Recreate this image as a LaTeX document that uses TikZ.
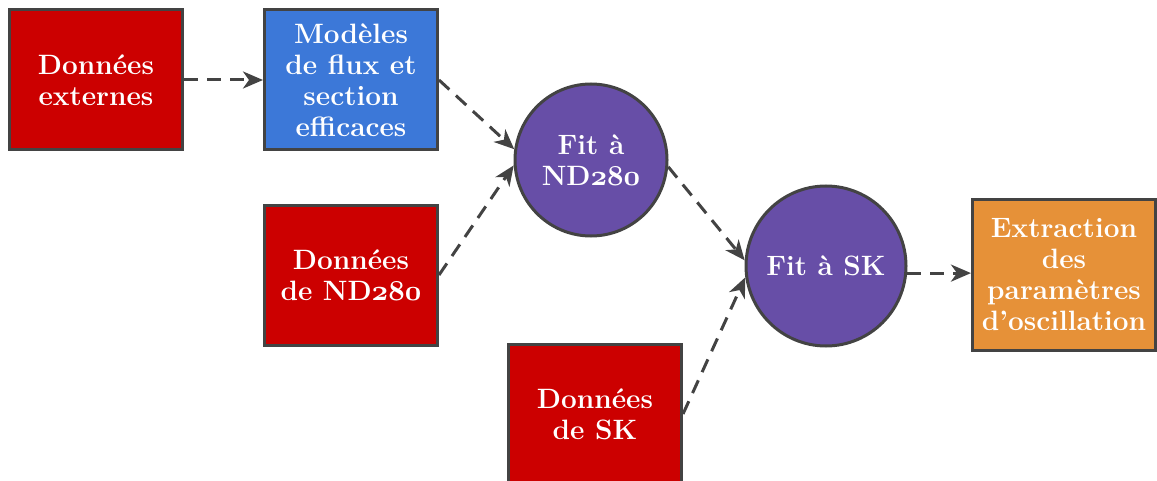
\documentclass[tikz,border=0pt]{standalone}
\usepackage{fontspec}
\usepackage{tikz}
\usetikzlibrary{positioning,arrows.meta,shapes}
\definecolor{datared}{HTML}{CC0000}
\definecolor{modelblue}{HTML}{3C78D8}
\definecolor{fitpurple}{HTML}{674EA7}
\definecolor{resorange}{HTML}{E69138}
\definecolor{edgegray}{HTML}{434343}
% old-style digits, bold
\newcommand{\osdigits}[1]{{\fontencoding{OML}\fontfamily{cmm}\fontseries{b}\fontshape{it}\selectfont #1}}

\begin{document}
\begin{tikzpicture}[x=0.5pt, y=-0.5pt,
      box/.style={rectangle, draw=edgegray, line width=1.5pt,
        minimum width=86.5pt, minimum height=70pt, inner sep=2pt,
        align=center, text=white, font=\fontsize{14}{15.5}\selectfont\bfseries},
      fit/.style={circle, draw=edgegray, line width=1.5pt, fill=fitpurple,
        inner sep=0pt, align=center, text=white,
        font=\fontsize{14}{15.5}\selectfont\bfseries},
      arr/.style={-{Stealth[length=10pt, width=8.5pt, inset=3pt]}, line width=1.5pt,
        color=edgegray, dash pattern=on 7pt off 4.5pt}
    ]
      \useasboundingbox (0,0) rectangle (1157,481);
      \node[box, fill=datared]    (ext) at (96,80)   {Données\\externes};
      \node[box, fill=modelblue]  (mod) at (351,80)  {Modèles\\de flux et\\section\\efficaces};
      \node[box, fill=datared]    (dnd) at (351,275) {Données\\de ND\osdigits{280}};
      \node[box, fill=datared]    (dsk) at (595,414) {Données\\de SK};
      \node[fit, minimum size=76pt] (fnd) at (591,160) {Fit à\\ND\osdigits{280}};
      \node[fit, minimum size=80pt] (fsk) at (826,266) {Fit à SK};
      \node[box, fill=resorange, minimum width=91.5pt, minimum height=75.5pt]
        (osc) at (1064,275) {Extraction\\des\\paramètres\\d’oscillation};
      \draw[arr] (ext) -- (mod);
      \draw[arr] (mod.east) -- (fnd.172);
      \draw[arr] (dnd.east) -- (fnd.184);
      \draw[arr] (fnd.-5) -- (fsk.176);
      \draw[arr] (dsk.east) -- (fsk.188);
      \draw[arr] (fsk.-5) -- (fsk.-5 -| osc.west);
    \end{tikzpicture}
\end{document}
